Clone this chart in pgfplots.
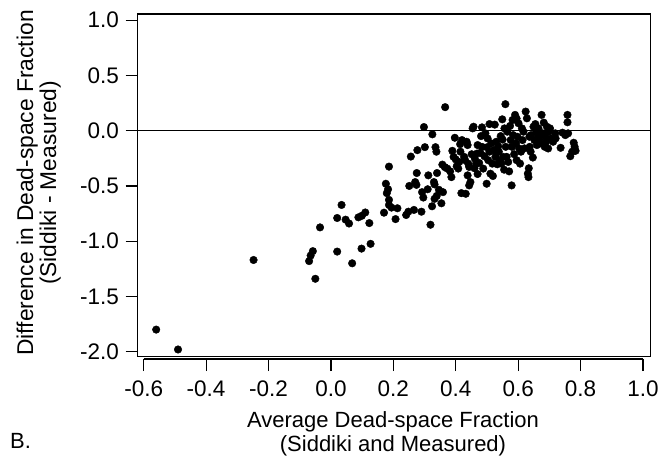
\documentclass[border=0pt]{standalone}
\usepackage{pgfplots}
\pgfplotsset{compat=1.18}
\usepackage{fontspec}
\setmainfont{Liberation Sans}
\begin{document}
\begin{tikzpicture}[font=\fontsize{22bp}{26bp}\selectfont]
\path[use as bounding box] (0bp,0bp) rectangle (661bp,460bp);
\begin{axis}[
  at={(137.5bp,103.5bp)}, anchor=south west,
  scale only axis, width=513.2bp, height=342.5bp,
  xmin=-0.6199, xmax=1.0247, ymin=-2.0434, ymax=1.0561,
  axis line style={line width=1.2bp, black},
  every tick/.style={line width=1.2bp, black},
  tick align=outside, major tick length=12bp,
  xtick={-0.6,-0.4,-0.2,0,0.2,0.4,0.6,0.8,1.0},
  xticklabels={-0.6,-0.4,-0.2,0.0,0.2,0.4,0.6,0.8,1.0},
  ytick={-2,-1.5,-1,-0.5,0,0.5,1},
  yticklabels={-2.0,-1.5,-1.0,-0.5,0.0,0.5,1.0},
  xtick pos=bottom, ytick pos=left,
  xtick style={yshift=-2.5bp},
  every tick label/.append style={font=\fontsize{22.5bp}{26bp}\selectfont},
  xticklabel style={yshift=-9bp},
  yticklabel style={xshift=-3bp},
  clip=false,
]
\addplot[only marks, mark=*, mark size=3.8bp, mark options={draw=none, fill=black}] coordinates {
(-0.56,-1.80) (-0.49,-1.98) (-0.248,-1.17) (-0.07,-1.18) (-0.065,-1.13) (-0.058,-1.09)
(-0.05,-1.34) (-0.035,-0.875) (0.02,-1.094) (0.02,-0.79) (0.034,-0.672) (0.047,-0.805)
(0.058,-0.84) (0.068,-1.20) (0.088,-0.784) (0.098,-1.067) (0.099,-0.77) (0.11,-0.74)
(0.123,-0.836) (0.127,-1.024) (0.17,-0.742) (0.176,-0.48) (0.179,-0.565) (0.183,-0.53)
(0.186,-0.325) (0.186,-0.626) (0.186,-0.672) (0.194,-0.696) (0.207,-0.80) (0.213,-0.702)
(0.241,-0.763) (0.248,-0.733) (0.251,-0.50) (0.256,-0.234) (0.266,-0.717) (0.27,-0.465)
(0.274,-0.49) (0.275,-0.383) (0.277,-0.176) (0.29,-0.733) (0.292,-0.556) (0.296,-0.605)
(0.298,0.033) (0.301,-0.149) (0.312,-0.404) (0.319,-0.851) (0.325,-0.033) (0.324,-0.684)
(0.33,-0.465) (0.332,-0.617) (0.332,-0.486) (0.335,-0.149) (0.338,-0.19) (0.339,-0.59)
(0.34,-0.383) (0.346,-0.535) (0.354,-0.657) (0.357,-0.307) (0.359,-0.556) (0.366,0.213)
(0.373,-0.343) (0.382,-0.368) (0.386,-0.42) (0.389,-0.182) (0.393,-0.237) (0.397,-0.064)
(0.403,-0.322) (0.408,-0.343) (0.411,-0.283) (0.414,-0.122) (0.415,-0.19) (0.418,-0.565)
(0.42,-0.085) (0.427,-0.237) (0.43,-0.267) (0.432,-0.571) (0.435,-0.10) (0.438,-0.13)
(0.438,-0.404) (0.44,-0.298) (0.443,-0.495) (0.443,-0.328) (0.447,-0.465) (0.451,-0.213)
(0.454,0.021) (0.457,0.036) (0.461,-0.252) (0.465,-0.298) (0.468,-0.207) (0.47,-0.392)
(0.475,-0.292) (0.479,-0.20) (0.481,-0.049) (0.484,0.03) (0.484,-0.146) (0.488,-0.343)
(0.492,-0.231) (0.495,-0.024) (0.499,-0.48) (0.502,-0.07) (0.504,-0.267) (0.508,-0.19)
(0.508,0.06) (0.511,-0.389) (0.514,-0.115) (0.517,-0.298) (0.519,-0.41) (0.522,-0.176)
(0.525,0.055) (0.527,-0.237) (0.53,-0.10) (0.533,-0.304) (0.536,-0.14) (0.538,-0.19)
(0.541,-0.274) (0.544,-0.049) (0.546,-0.298) (0.549,0.103) (0.552,-0.237) (0.555,-0.353)
(0.556,0.021) (0.559,0.24) (0.56,-0.146) (0.563,-0.237) (0.565,-0.009) (0.568,-0.283)
(0.571,-0.368) (0.574,0.043) (0.576,-0.085) (0.579,-0.495) (0.58,-0.146) (0.582,0.097)
(0.584,-0.04) (0.587,-0.213) (0.59,0.143) (0.593,-0.115) (0.595,-0.267) (0.598,-0.055)
(0.601,0.067) (0.603,-0.161) (0.606,-0.298) (0.609,-0.19) (0.612,0.021) (0.614,-0.085)
(0.617,-0.009) (0.624,0.173) (0.628,0.112) (0.631,-0.389) (0.633,-0.42) (0.636,-0.055)
(0.637,-0.146) (0.641,-0.04) (0.647,-0.243) (0.649,0.036) (0.652,-0.085) (0.655,0.06)
(0.658,-0.009) (0.66,-0.13) (0.663,-0.04) (0.665,0.021) (0.668,-0.079) (0.671,-0.115)
(0.675,0.143) (0.678,-0.024) (0.682,0.073) (0.685,-0.146) (0.687,-0.055) (0.692,0.036)
(0.696,-0.161) (0.698,-0.009) (0.702,0.021) (0.705,-0.07) (0.712,-0.10) (0.719,-0.024)
(0.736,-0.155) (0.742,-0.018) (0.751,-0.04) (0.758,0.143) (0.758,0.076) (0.76,-0.024)
(0.767,-0.231) (0.773,-0.19) (0.778,-0.109) (0.781,-0.146) (0.784,-0.182)
(0.31,-0.53) (0.365,-0.33) (0.634,-0.34) (0.47,-0.13) (0.50,-0.15) (0.53,-0.20)
(0.62,-0.16) (0.64,-0.19) (0.69,-0.10) (0.72,-0.07) (0.55,-0.08) (0.46,-0.34)
(0.40,-0.26) (0.595,0.11)
};
\draw[line width=1.2bp] (axis cs:-0.6199,0) -- (axis cs:1.0247,0);
\draw[line width=1.2bp] ([yshift=-2.5bp]axis cs:-0.6,-2.0434) -- ([yshift=-2.5bp]axis cs:1.0,-2.0434);
\end{axis}
\node[anchor=base] at (393bp,33bp) {Average Dead-space Fraction};
\node[anchor=base] at (393bp,8.5bp) {(Siddiki and Measured)};
\node[anchor=base, rotate=90] at (33bp,277bp) {\fontsize{22.8bp}{26bp}\selectfont Difference in Dead-space Fraction};
\node[anchor=base, rotate=90] at (56bp,277bp) {\fontsize{22.8bp}{26bp}\selectfont (Siddiki - Measured)};
\node[anchor=base west, inner sep=0pt] at (10bp,12bp) {B.};
\end{tikzpicture}
\end{document}
